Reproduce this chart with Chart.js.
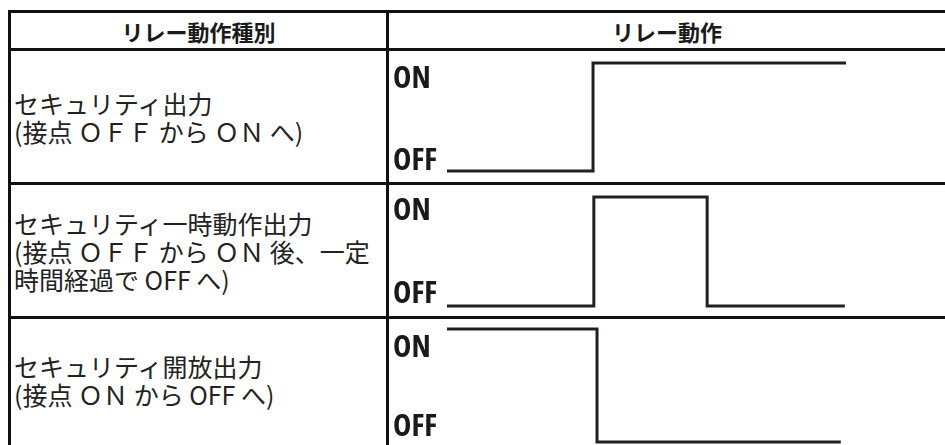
<!DOCTYPE html>
<html lang="ja">
<head>
<meta charset="utf-8">
<script src="https://cdn.jsdelivr.net/npm/chart.js@4/dist/chart.umd.min.js"></script>
<style>
  html, body { margin: 0; padding: 0; background: #fff; width: 945px; height: 445px; overflow: hidden; }
  #wrap { position: relative; width: 945px; height: 445px; }
  .hl { position: absolute; left: 8px; width: 940px; height: 3px; background: #111; }
  .vl { position: absolute; top: 10px; width: 3px; height: 440px; background: #111; }
  .head { position: absolute; top: 13px; height: 35px; display: flex; align-items: center; justify-content: center;
          font-family: "Noto Sans CJK JP", sans-serif; font-weight: 700; font-size: 22px; color: #1a1a1a; }
  .cell { position: absolute; left: 11px; width: 375px; display: flex; align-items: center;
          font-family: "Noto Sans CJK JP", sans-serif; font-weight: 400; font-size: 25px; line-height: 28px;
          color: #222; padding-left: 3px; box-sizing: border-box; white-space: pre; }
  canvas { position: absolute; left: 389px; }
</style>
</head>
<body>
<div id="wrap"></div>
<script>
// ---- data ----
const headers = ['リレー動作種別', 'リレー動作'];
const rowTitles = ['セキュリティ出力', 'セキュリティ一時動作出力', 'セキュリティ開放出力'];
const rowNotes = ['(接点 ＯＦＦ から ＯＮ へ)', '(接点 ＯＦＦ から ＯＮ 後、一定\n時間経過で OFF へ)', '(接点 ＯＮ から OFF へ)'];
const levelLabels = ['OFF', 'ON'];
// relay signal: times (0-100) and levels (0 = OFF, 1 = ON)
const timesA = [0, 36.6, 100];
const levelsA = [0, 1, 1];
const timesB = [0, 36.8, 65.2, 99.7];
const levelsB = [0, 1, 0, 0];
const timesC = [0, 37.6, 98.7];
const levelsC = [1, 0, 0];

// ---- layout ----
const wrap = document.getElementById('wrap');
function el(cls, css, text) {
  const d = document.createElement('div');
  d.className = cls;
  Object.assign(d.style, css);
  if (text !== undefined) d.textContent = text;
  wrap.appendChild(d);
  return d;
}
[10, 48, 182, 316].forEach(y => el('hl', { top: y + 'px' }));
el('vl', { left: '8px' });
el('vl', { left: '386px' });
el('head', { left: '11px', width: '375px' }, headers[0]);
el('head', { left: '389px', width: '556px' }, headers[1]);
const rowBoxes = [[51, 131], [185, 131], [319, 128]];
const textBoxes = [[51, 131], [185, 131], [319, 122]];
textBoxes.forEach((b, i) => {
  el('cell', { top: b[0] + 'px', height: b[1] + 'px' }, rowTitles[i] + '\n' + rowNotes[i]);
});

// ---- charts ----
const series = [[timesA, levelsA], [timesB, levelsB], [timesC, levelsC]];
const pads = [[12, 11], [12, 10], [10, 5]];
const tickPos = [[0.09, 0.85], [0.11, 0.87], [0.13, 0.83]];
series.forEach((s, i) => {
  const c = document.createElement('canvas');
  c.width = 556; c.height = rowBoxes[i][1];
  c.style.top = rowBoxes[i][0] + 'px';
  wrap.appendChild(c);
  new Chart(c, {
    type: 'line',
    data: {
      datasets: [{
        data: s[0].map((t, k) => ({ x: t, y: s[1][k] })),
        stepped: 'before',
        borderColor: '#231f20',
        borderWidth: 3,
        borderJoinStyle: 'miter',
        borderCapStyle: 'butt',
        pointRadius: 0,
        fill: false,
        clip: false
      }]
    },
    options: {
      responsive: false,
      animation: false,
      devicePixelRatio: 1,
      events: [],
      layout: { padding: { left: 4, right: 99, top: pads[i][0], bottom: pads[i][1] } },
      plugins: { legend: { display: false }, tooltip: { enabled: false } },
      scales: {
        x: { type: 'linear', min: 0, max: 100, display: false },
        y: {
          type: 'linear', min: 0, max: 1,
          grid: { display: false, drawTicks: false },
          border: { display: false },
          afterFit: ax => { ax.width = 54; },
          afterBuildTicks: ax => { ax.ticks = tickPos[i].map(v => ({ value: v })); },
          ticks: {
            crossAlign: 'far',
            padding: 0,
            color: '#1a1a1a',
            font: { family: "'Open Sans', 'DejaVu Sans'", weight: 'bold condensed', size: 31, lineHeight: 0.2 },
            callback: (v, idx) => levelLabels[idx]
          }
        }
      }
    }
  });
});
</script>
</body>
</html>
